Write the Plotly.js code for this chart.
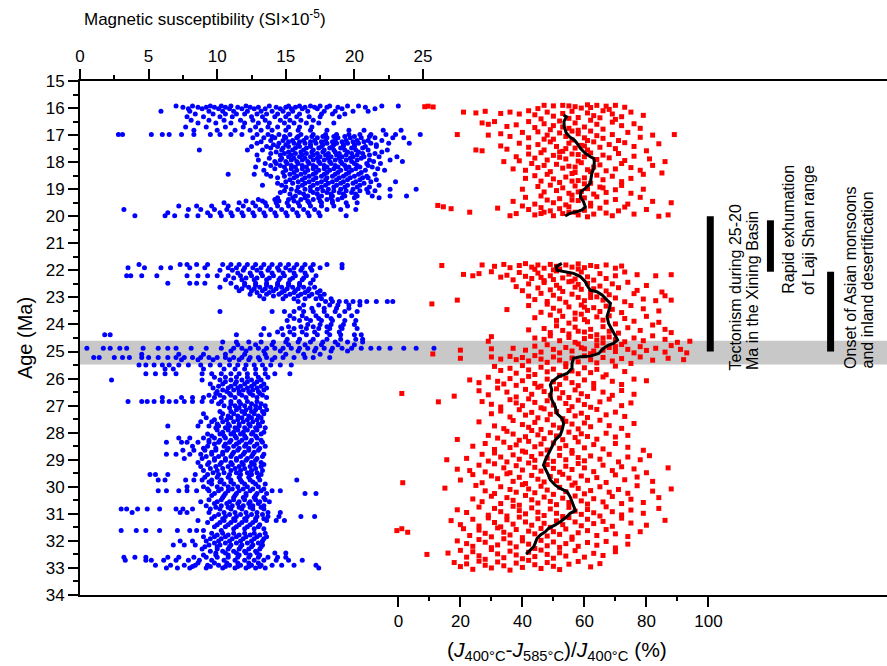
<!DOCTYPE html>
<html>
<head>
<meta charset="utf-8">
<script src="https://cdn.plot.ly/plotly-3.0.1.min.js"></script>
<style>html,body{margin:0;padding:0;background:#fff}#chart{width:887px;height:666px}</style>
</head>
<body>
<div id="chart"></div>
<script>
// ---------------- DATA ----------------
// Magnetic susceptibility (SI x 1e-5): row ages (Ma) and the values measured at each level
const magRowAge = [
 15.92,15.97,16.03,16.12,16.22,16.32,16.45,16.55,16.7,16.82,16.98,17.1,17.2,17.3,17.42,17.55,17.68,17.8,17.92,18.05,
 18.18,18.3,18.45,18.58,18.72,18.85,19.0,19.12,19.25,19.38,19.5,19.62,19.75,19.87,19.98,
 21.78,21.9,22.0,22.2,22.35,22.48,22.62,22.75,22.88,23.05,23.15,23.28,23.52,23.68,23.85,24.0,24.15,24.38,24.55,24.65,
 24.75,24.88,24.98,25.1,25.22,25.3,25.5,25.65,25.82,25.95,26.05,26.2,26.35,26.48,26.62,26.7,26.85,27.0,27.15,27.3,
 27.45,27.6,27.75,27.9,28.05,28.2,28.35,28.5,28.65,28.8,28.95,29.1,29.25,29.4,29.55,29.75,29.9,30.0,30.15,30.25,
 30.4,30.55,30.7,30.82,30.95,31.1,31.25,31.4,31.55,31.62,31.72,31.85,32.0,32.15,32.3,32.45,32.6,32.72,32.9,33.0,
 17.05,17.25,17.36,17.48,17.62,17.74,17.86,17.98,18.12,18.24,18.38,18.52,18.65,18.78,18.92,19.06,19.18,19.32,19.44,
 22.1,22.28,22.55,22.68,22.82,22.95,23.4,23.78,24.08,24.28,
 26.12,26.28,26.42,26.55,26.93,27.08,27.22,27.38,27.52,27.68,27.82,27.98,28.12,28.28,28.42,28.58,28.72,28.88,29.02,29.18,
 29.32,29.48,29.65,29.82,30.08,30.32,30.48,30.62,30.76,31.02,31.18,31.32,31.48,31.78,31.92,32.08,32.22,32.38,32.52,32.82,32.95
];
const magRowValues = [
 [7.0,8.2,9.5,10.3,11.0,12.1,13.8,15.2,16.0,16.8,17.5,18.2,19.5,20.3,22.0,23.2],
 [7.5,8.6,9.2,9.8,10.6,11.5,12.4,13.0,14.3,15.0,15.7,16.4,17.1,18.0,18.8,20.8],
 [7.9,8.9,10.1,10.9,11.8,12.7,13.5,14.6,15.4,16.2,17.3,19.1,21.5],
 [5.9,8.0,9.4,10.4,11.2,12.2,13.2,14.0,14.8,15.5,16.6,17.8,18.6,19.9,21.0],
 [8.4,9.7,10.6,11.4,12.0,12.9,13.6,14.4,15.2,16.0,17.6,18.4,19.3],
 [7.8,9.0,10.2,11.1,12.5,13.3,14.2,15.0,15.8,16.7,17.5,18.9],
 [8.1,9.4,10.5,11.7,12.6,13.5,14.6,15.3,16.1,17.0],
 [8.6,9.9,11.0,12.0,13.0,13.8,14.9,15.6,16.5,17.4,18.5],
 [7.7,9.2,10.6,11.9,12.8,13.7,14.4,15.2,16.0,16.9],
 [8.3,10.0,11.3,12.4,13.2,14.0,15.0,15.9,16.8,18.0,19.6,20.7,22.1,23.4],
 [2.8,3.1,5.2,6.0,6.5,7.4,8.3,9.5,10.2,11.0,11.8,12.9,13.7,14.5,15.3,16.1,17.0,17.9,18.7,19.6,20.4,21.2,22.3,23.0,24.8],
 [12.6,13.4,14.2,15.0,15.8,16.5,17.3,18.0,18.8,19.7,20.5,21.5,22.8,23.6],
 [13.9,14.8,15.5,16.3,17.1,17.9,18.6,19.4,20.2,21.0,22.0],
 [12.9,14.5,15.6,16.4,17.2,18.0,18.7,19.5,20.3,21.2,22.5,24.0],
 [12.5,13.6,14.4,15.2,16.0,16.8,17.6,18.4,19.2,20.0,20.8,21.6],
 [8.7,12.2,13.3,14.7,15.5,16.3,17.0,17.8,18.5,19.3,20.1,21.0,22.4],
 [13.9,14.9,15.7,16.5,17.3,18.1,18.9,19.8,20.6,21.5],
 [15.2,16.0,16.8,17.5,18.3,19.1,19.9,20.7,21.8,23.1],
 [13.0,14.6,15.4,16.2,17.0,17.8,18.6,19.4,20.2,21.1,22.6],
 [13.5,14.3,15.1,15.9,16.7,17.5,18.3,19.1,20.0,20.9,21.9],
 [12.8,14.9,15.7,16.5,17.2,18.0,18.8,19.6,20.4,21.3],
 [13.4,15.0,15.8,16.6,17.4,18.2,19.0,19.8,20.8,22.2],
 [10.8,12.7,13.6,15.3,16.1,17.0,17.8,18.6,19.4,20.3,21.5],
 [14.4,15.6,16.4,17.2,18.0,18.9,19.7,20.6,21.0],
 [15.0,15.9,16.7,17.6,18.4,19.2,20.1,21.2,23.0],
 [13.3,14.7,16.2,17.0,17.9,18.7,19.5,20.4,21.8],
 [15.4,16.4,17.3,18.1,19.0,19.9,20.9,22.6,24.5],
 [14.6,16.0,17.0,18.0,18.9,19.8,21.0],
 [15.7,16.6,17.6,18.4,19.3,20.2,21.3,22.6,23.8],
 [13.0,14.2,15.2,16.1,17.0,18.0,18.8],
 [10.5,11.6,12.6,13.5,14.3,15.1,15.9,16.7,17.6,18.4,19.4,20.2],
 [7.2,8.5,9.6,10.8,11.9,12.8,13.6,14.4,15.2,16.0,16.8,17.6,18.5,19.5],
 [3.2,7.9,8.8,9.8,10.7,11.5,12.3,13.1,13.9,14.7,15.5,16.3,17.1,18.0,19.0,20.1],
 [6.4,9.3,10.2,11.0,11.8,12.6,13.4,14.2,15.0,15.8,16.6,17.4],
 [4.0,6.2,6.9,7.8,8.6,9.5,10.3,11.1,11.9,12.7,13.5,14.3,15.1,15.9,16.7,17.5,19.4],
 [4.3,7.3,7.8,8.5,9.3,10.4,11.0,11.6,12.2,12.8,13.4,14.0,14.6,15.2,15.8,16.4,17.0,18.0,19.1],
 [3.5,4.7,5.9,6.6,8.0,9.1,10.8,11.4,12.0,12.6,13.2,13.8,14.4,15.0,15.6,16.2,16.8,17.5,19.1],
 [10.2,11.1,11.9,12.9,13.7,14.5,15.3,16.1,16.9],
 [3.4,3.7,4.5,5.6,7.8,8.6,9.3,10.0,10.8,11.7,12.5,13.3,14.1,14.9,15.7,16.5,17.2],
 [10.6,11.8,12.7,13.6,14.5,15.3,16.2,17.0],
 [6.4,8.0,8.5,9.1,11.0,12.0,12.8,13.6,14.4,15.2,16.0,16.8],
 [10.2,11.4,12.3,13.1,13.9,14.7,15.5,16.3,17.1],
 [11.6,12.5,13.3,14.1,14.9,15.7,16.6,17.5],
 [12.4,13.6,14.5,15.3,16.1,16.9,17.8],
 [13.4,14.8,15.6,16.4,17.2,17.6,18.3],
 [15.9,17.9,18.4,18.9,19.4,19.9,20.4,20.9,21.6,22.4,22.8],
 [16.3,17.4,18.2,18.8,19.6,20.4],
 [10.2,14.0,14.9,15.6,16.3,17.0,17.8,18.6,19.3,20.2],
 [15.3,16.2,17.2,18.0,18.9,19.8],
 [15.1,16.0,16.8,17.6,18.4,19.3,20.1],
 [16.6,17.5,18.3,19.2,20.0],
 [13.4,14.7,15.6,16.5,17.4,18.2,19.1,20.2],
 [1.8,2.2,11.4,13.2,13.8,14.8,15.6,16.5,17.3,18.2,19.0,20.0,20.5],
 [15.1,16.0,17.0,18.0,19.0,20.1,20.6],
 [10.4,11.4,12.3,13.2,14.1,15.0,15.9,16.8,17.7,18.6,19.5,20.6],
 [11.5,12.8,14.0,15.2,16.4,17.6,18.8,20.0],
 [0.5,1.7,2.2,2.9,3.4,4.6,5.7,6.4,7.0,8.1,9.2,10.3,11.2,11.8,12.4,13.0,13.6,14.2,14.8,15.4,16.0,16.6,17.2,17.8,18.4,19.1,19.8,20.5,21.2,21.8,22.6,23.6,24.5,25.8],
 [11.0,12.1,13.4,14.6,15.9,17.1,18.3,19.5],
 [4.5,7.2,9.0,10.6,12.0,13.5,15.0,16.3,17.5],
 [1.0,1.4,2.5,3.1,3.6,4.5,5.0,5.7,6.4,7.0,7.6,8.2,8.8,9.4,10.0,10.6,11.2,11.8,12.4,13.0,13.6,14.2,14.8,15.6,16.4,17.0,18.2],
 [7.4,8.6,9.7,10.9,11.6,12.3,13.1,14.0],
 [4.3,4.8,5.4,6.0,6.5,7.2,7.9,8.8,9.5,10.2,10.9,11.5,12.1,12.7,13.3,13.9,14.6,15.4],
 [6.2,6.8,9.0,10.5,11.3,12.0,12.8,13.5],
 [4.8,5.5,6.2,7.0,8.9,9.6,10.3,11.0,11.6,12.2,12.8,13.5,14.2,15.3],
 [9.8,10.6,11.4,12.2,13.0,13.7],
 [2.3,8.9,10.2,11.0,11.8,12.5,13.2],
 [9.5,10.4,11.3,12.0,12.7,13.4],
 [9.7,10.8,11.5,12.2,12.9,13.6],
 [10.0,10.7,11.6,12.3,13.0],
 [9.4,10.2,11.0,11.8,12.6,13.3],
 [6.0,7.4,8.2,9.0,9.8,10.5,11.3,12.1,12.9,13.6],
 [3.5,4.5,4.9,5.4,6.0,6.5,7.0,7.6,8.2,8.9,9.6,10.3,11.0,11.6,12.2,12.9],
 [10.5,11.3,12.0,12.8,13.5],
 [11.4,12.1,12.8,13.6],
 [9.0,10.4,11.2,12.0,12.7,13.4],
 [9.2,10.3,11.0,11.8,12.5,13.2],
 [8.8,9.6,10.4,11.2,11.9,12.6,13.3],
 [6.4,8.6,9.4,10.1,10.9,11.6,12.4,13.1],
 [10.0,10.8,11.5,12.2,12.9],
 [9.3,10.2,11.0,11.7,12.5,13.2],
 [7.2,8.0,9.0,9.8,10.6,11.4,12.1,12.9],
 [6.3,7.4,7.8,8.6,9.4,10.1,10.9,11.6,12.4,13.3],
 [8.2,9.3,10.5,11.2,12.0,12.7,13.5],
 [7.5,8.3,9.1,9.9,10.7,11.5,12.3,13.0],
 [6.3,7.0,8.0,8.8,9.6,10.4,11.1,11.9,12.6,13.4],
 [7.6,8.9,9.8,10.6,11.4,12.2,12.9],
 [8.6,9.4,10.3,11.0,11.8,12.5,13.2],
 [8.8,9.9,10.8,11.6,12.4,13.2],
 [9.0,10.0,11.0,11.7,12.5,13.3],
 [5.1,5.5,6.4,8.4,9.3,10.1,10.9,11.7,12.5,13.2],
 [5.7,6.2,7.7,8.3,8.9,9.6,10.3,11.0,11.7,12.4,13.1,15.8],
 [9.6,10.5,11.2,12.0,12.8,13.5],
 [7.8,9.0,10.0,10.8,11.5,12.2,13.0],
 [5.7,6.3,7.2,7.8,8.5,9.4,10.1,10.8,11.6,12.4,13.2,14.0,14.6],
 [9.8,10.6,11.4,12.1,12.9,13.6,16.4,17.2],
 [10.4,11.2,11.9,12.7,13.4],
 [8.8,10.0,10.9,11.6,12.4,13.1,13.8],
 [9.2,10.3,11.1,11.9,12.6,13.4],
 [3.0,3.4,4.2,4.9,5.8,7.0,7.5,8.2,9.5,10.2,11.0,11.8,12.6,13.4],
 [3.8,7.3,7.8,9.4,10.5,11.3,12.1,12.9,13.7,14.6],
 [9.8,10.6,11.4,12.2,12.9,13.7,14.5,16.1,17.1],
 [8.6,10.5,11.3,12.1,12.8,13.6,14.3,14.9],
 [10.0,10.8,11.6,12.4,13.1],
 [11.2,12.0,12.7,13.4],
 [3.0,4.1,4.8,5.8,7.1,8.0,8.5,9.0,10.3],
 [9.6,10.4,11.2,12.0,12.7,13.5],
 [9.0,9.8,10.6,11.4,12.1,12.9,13.6],
 [7.3,8.2,9.2,10.1,10.9,11.7,12.5,13.3],
 [6.8,7.6,8.4,9.4,10.2,11.0,11.8,12.6,13.3],
 [8.9,10.0,10.8,11.6,12.3,13.1],
 [9.9,10.6,11.4,12.1,12.9,14.2,15.0],
 [3.2,4.0,4.8,6.4,7.2,8.3,9.2,10.0,10.8,11.5,12.3,13.0,13.7,14.4,15.0],
 [3.3,4.8,5.2,6.1,7.0,7.9,8.7,9.6,10.5,11.3,12.0,12.7,13.4,14.3,15.2,16.2],
 [5.5,6.6,7.6,8.4,9.3,10.1,10.9,11.7,12.5,13.2,14.0,14.7,15.6,17.2],
 [6.3,7.1,8.0,9.2,10.4,11.3,12.1,12.8,13.5,17.4],
 [14.0,14.9,15.9,16.9,17.7,18.5,19.3,20.0,21.1],
 [13.2,15.2,16.0,16.8,17.6,18.4,19.1,19.9,20.7],
 [14.1,15.0,15.9,16.8,17.7,18.5,19.2,20.0,21.6],
 [13.9,14.8,15.7,16.5,17.4,18.2,19.0,19.8,20.6],
 [14.3,15.2,16.1,16.9,17.7,18.6,19.5,20.3,22.0],
 [12.9,14.6,15.4,16.2,17.0,17.9,18.7,19.4,20.2,21.1],
 [13.8,14.7,15.6,16.4,17.3,18.1,18.9,19.7,20.5],
 [14.2,15.0,15.8,16.6,17.4,18.2,19.0,19.8,21.4,23.5],
 [13.9,14.6,15.4,16.2,17.0,17.8,18.6,19.3,20.2,21.0],
 [14.2,15.4,16.2,17.0,17.8,18.5,19.4,20.1,21.7],
 [14.8,15.6,16.4,17.2,18.0,18.8,19.6,20.5],
 [13.9,14.9,15.8,16.7,17.6,18.4,19.2,20.0,20.9],
 [15.3,16.2,17.0,17.9,18.7,19.5,20.4,21.6],
 [14.4,15.5,16.4,17.3,18.1,19.0,19.9,20.7],
 [15.0,15.9,16.8,17.6,18.5,19.3,20.2,21.1],
 [14.9,15.8,16.8,17.7,18.5,19.4,20.4,21.5],
 [15.3,16.3,17.3,18.3,19.2,20.1],
 [14.4,15.5,16.4,17.4,18.3,19.1,20.0,21.8],
 [12.1,13.3,14.5,15.6,16.6,17.5,18.4],
 [11.5,12.4,13.2,14.0,14.8,15.6,16.4],
 [11.2,12.1,12.9,13.8,14.6,15.5,16.3],
 [12.0,12.8,13.6,14.4,15.2,16.0],
 [11.8,12.7,13.5,14.3,15.1,15.9,16.7],
 [12.9,13.8,14.7,15.6,16.4,17.3],
 [13.1,14.1,15.0,15.9,16.7,17.5],
 [16.0,16.9,17.8,18.7,19.6],
 [15.6,16.5,17.4,18.3],
 [15.2,16.1,17.0,18.0,19.0],
 [14.4,15.3,16.2,17.1,18.0,18.9],
 [10.6,11.4,12.2,12.9],
 [10.1,11.0,11.7,12.5,13.2],
 [10.4,11.2,11.9,12.6,13.4],
 [9.9,10.9,11.6,12.4,13.1],
 [10.1,11.0,11.7,12.5,13.2],
 [10.9,11.6,12.4,13.1],
 [10.2,11.0,11.8,12.5,13.3],
 [10.8,11.5,12.3,13.0],
 [9.8,10.7,11.5,12.2,12.9],
 [10.0,10.8,11.6,12.3,13.0],
 [9.9,10.6,11.3,12.0,12.8,13.5],
 [10.4,11.2,11.9,12.6,13.4],
 [9.6,10.5,11.3,12.0,12.8],
 [9.4,10.2,11.0,11.8,12.5,13.2],
 [9.8,10.6,11.4,12.1,12.9],
 [9.0,9.9,10.8,11.6,12.3,13.1],
 [9.6,10.4,11.2,12.0,12.7],
 [9.2,10.1,11.0,11.7,12.5,13.3],
 [9.8,10.6,11.4,12.1,12.8],
 [9.3,10.2,11.1,11.9,12.7,13.4],
 [9.5,10.4,11.3,12.0,12.8],
 [9.7,10.5,11.4,12.2,12.9],
 [9.1,10.0,10.8,11.6,12.3,13.0],
 [9.4,10.2,11.0,11.8,12.6],
 [9.3,10.3,11.1,11.9,12.6,13.4],
 [9.6,10.5,11.3,12.1,12.8],
 [9.4,10.3,11.2,12.0,12.8,13.5],
 [9.8,10.7,11.5,12.3,13.0],
 [9.9,10.8,11.6,12.4,13.2],
 [10.1,10.9,11.7,12.5,13.3],
 [9.6,10.4,11.2,12.0,12.8,13.4],
 [9.3,10.2,11.0,11.8,12.6],
 [9.8,10.6,11.4,12.2,13.0],
 [10.0,10.8,11.6,12.4,13.1],
 [9.5,10.3,11.1,11.9,12.7,13.4],
 [9.8,10.6,11.4,12.2,13.0],
 [9.1,10.0,10.9,11.7,12.5,13.2],
 [9.5,10.4,11.2,12.0,12.8],
 [9.0,9.9,10.8,11.6,12.4,13.1],
 [8.6,9.8,10.7,11.5,12.3,13.0],
 [8.2,9.5,10.6,11.5,12.3,13.1]
];

// (J400-J585)/J400 (%) : [age (Ma), percent]
const ratioPoints = [
 [15.95,8.5],[15.93,9.6],[15.96,11.2],
 [15.9,47],[15.92,50],[15.9,53],[15.95,57],[15.88,61],[15.9,64],[15.93,67],[15.9,70],[15.97,73],[15.92,55],[16.0,59],[16.02,45],[15.98,62],[16.05,68],
 [16.15,21],[16.18,25],[16.12,28],[16.2,33],[16.15,36],[16.22,39],[16.1,42],[16.25,44],[16.15,48],[16.3,50],[16.2,53],[16.12,56],[16.35,58],[16.18,61],[16.28,63],[16.1,66],[16.22,69],[16.32,72],[16.15,75],[16.27,79],[16.4,46],[16.38,55],[16.36,65],[16.42,70],
 [16.55,27],[16.6,29],[16.5,31],[16.68,35],[16.62,38],[16.5,42],[16.72,44],[16.58,47],[16.65,50],[16.48,52],[16.75,55],[16.55,57],[16.7,60],[16.45,62],[16.6,64],[16.78,66],[16.52,69],[16.65,72],[16.58,76],[16.75,78],[16.7,53],[16.8,49],[16.82,58],
 [16.98,19],[17.0,29],[16.95,33],[17.05,36],[16.9,40],[17.1,42],[16.88,45],[17.0,48],[17.15,50],[16.92,52],[17.05,54],[17.18,56],[16.95,58],[17.1,60],[16.85,62],[17.02,64],[17.12,66],[16.98,69],[17.2,71],[16.9,74],[17.08,78],[17.0,82],[16.98,89],[17.15,47],[17.2,61],[16.85,56],
 [17.55,25],[17.58,27],[17.4,33],[17.52,35],[17.3,39],[17.45,42],[17.35,45],[17.55,47],[17.25,49],[17.42,51],[17.6,53],[17.3,55],[17.48,57],[17.38,59],[17.55,61],[17.25,63],[17.45,65],[17.35,68],[17.5,70],[17.28,73],[17.42,76],[17.58,80],[17.32,84],[17.4,60],[17.5,54],
 [17.98,34],[17.8,38],[17.95,39],[17.7,42],[17.85,44],[17.65,46],[17.92,48],[17.75,50],[17.62,52],[17.88,54],[17.7,56],[17.96,58],[17.8,60],[17.66,62],[17.9,64],[17.74,66],[17.84,68],[17.68,71],[17.94,73],[17.78,76],[17.88,81],[17.98,86],[17.72,58],[17.82,52],
 [18.25,37],[18.3,41],[18.05,43],[18.2,45],[18.12,47],[18.35,49],[18.08,51],[18.22,53],[18.15,55],[18.38,57],[18.02,59],[18.28,61],[18.18,63],[18.1,65],[18.32,67],[18.25,70],[18.05,72],[18.2,75],[18.3,78],[18.12,82],[18.4,85],[18.18,57],[18.35,62],
 [18.6,41],[18.5,44],[18.7,46],[18.45,48],[18.62,50],[18.75,52],[18.55,54],[18.42,56],[18.68,58],[18.58,60],[18.78,62],[18.48,64],[18.65,66],[18.52,69],[18.72,72],[18.6,75],[18.45,79],[18.7,56],[18.8,60],
 [19.0,40],[18.9,45],[19.1,47],[18.85,49],[19.05,51],[18.95,53],[19.15,55],[18.88,57],[19.08,59],[18.98,61],[19.18,63],[18.92,65],[19.12,67],[19.02,70],[18.86,72],[19.15,75],[19.0,79],[19.1,58],[18.95,66],
 [19.45,37],[19.3,41],[19.55,44],[19.25,46],[19.4,48],[19.5,50],[19.35,52],[19.58,54],[19.22,56],[19.42,58],[19.32,60],[19.52,62],[19.28,64],[19.48,67],[19.38,70],[19.55,74],[19.3,78],[19.45,82],[19.5,88],[19.4,56],
 [19.6,12.7],[19.65,14.5],[19.72,17],[19.85,23],[19.7,32],[19.98,36],[19.9,38],[19.62,40],[19.75,42],[19.95,44],[19.68,46],[19.85,47],[19.8,49],[19.98,50],[19.72,52],[19.9,53],[19.65,55],[19.85,57],[19.95,58],[19.78,60],[19.62,62],[19.92,63],[19.7,65],[19.88,67],[19.98,69],[19.8,71],[19.66,73],[19.92,76],[19.75,80],[20.0,84],[19.95,87],[19.85,55],[20.02,61],[19.9,46],
 [21.82,14],[21.8,27],[21.85,31],[21.78,34],[21.9,36],[21.82,39],[21.75,41],[21.88,43],[21.8,45],[21.92,47],[21.78,49],[21.85,51],[21.95,52],[21.8,54],[21.88,56],[21.76,58],[21.9,60],[21.82,62],[21.86,64],[21.8,67],[21.92,70],[21.84,72],[21.96,44],[21.98,50],[21.95,58],
 [22.15,21],[22.2,24],[22.12,26],[22.05,30],[22.25,33],[22.18,35],[22.35,37],[22.08,39],[22.22,41],[22.3,43],[22.1,45],[22.38,47],[22.2,49],[22.02,51],[22.28,53],[22.14,55],[22.32,57],[22.06,59],[22.24,61],[22.36,63],[22.12,65],[22.3,67],[22.2,70],[22.06,73],[22.16,77],[22.2,83],[22.16,88],[22.34,50],[22.4,56],[22.26,46],
 [22.6,38],[22.75,40],[22.5,42],[22.65,45],[22.45,47],[22.72,49],[22.55,51],[22.78,53],[22.42,55],[22.62,57],[22.7,59],[22.48,61],[22.68,63],[22.58,65],[22.76,67],[22.5,69],[22.64,71],[22.44,74],[22.74,77],[22.56,80],[22.8,85],[22.66,52],[22.52,58],
 [23.1,19],[23.24,10.8],[22.95,42],[23.08,44],[22.85,46],[23.15,48],[22.92,50],[23.05,52],[23.18,54],[22.88,56],[23.0,58],[23.12,60],[22.82,62],[22.98,64],[23.1,66],[22.9,68],[23.02,70],[23.16,73],[22.86,76],[23.06,79],[23.12,83],[22.94,86],[23.1,88],[23.0,62],
 [23.45,35],[23.3,42],[23.55,46],[23.25,48],[23.4,50],[23.5,52],[23.35,55],[23.58,57],[23.28,59],[23.48,61],[23.38,63],[23.52,65],[23.32,67],[23.44,69],[23.56,72],[23.3,75],[23.42,79],[23.5,84],[23.36,60],
 [23.75,44],[23.65,49],[23.85,51],[23.7,53],[23.95,55],[23.8,57],[23.62,59],[23.9,61],[23.72,64],[23.84,66],[23.68,68],[23.98,70],[23.78,73],[23.88,76],[23.7,80],[23.92,84],[23.82,60],
 [24.2,42],[24.15,47],[24.3,49],[24.05,51],[24.22,53],[24.35,55],[24.1,57],[24.28,60],[24.18,62],[24.38,64],[24.08,66],[24.25,68],[24.32,71],[24.12,74],[24.22,78],[24.02,82],[24.18,86],[24.3,88],[24.25,58],
 [24.45,30],[24.62,29],[24.5,44],[24.55,47],[24.42,49],[24.6,52],[24.48,55],[24.66,57],[24.52,60],[24.44,62],[24.58,64],[24.68,66],[24.46,68],[24.56,70],[24.64,73],[24.5,76],[24.6,79],[24.42,82],[24.55,86],[24.66,90],[24.62,94],[24.5,66],
 [24.95,20],[24.9,30],[24.88,37],[24.95,41],[24.8,44],[25.02,46],[24.75,48],[24.92,50],[25.05,52],[24.85,54],[24.98,56],[24.72,58],[24.9,60],[25.08,62],[24.78,64],[24.95,66],[24.85,68],[25.0,70],[24.74,72],[24.92,74],[25.05,76],[24.82,78],[24.96,80],[24.88,83],[25.02,86],[24.78,88],[24.92,91],[25.05,93],[24.86,59],[24.98,63],[24.82,70],
 [25.09,11.1],[25.25,20],[25.2,30],[25.28,33],[25.18,36],[25.3,38],[25.22,40],[25.35,42],[25.15,44],[25.28,46],[25.4,48],[25.2,50],[25.32,52],[25.45,54],[25.24,56],[25.38,58],[25.16,60],[25.3,62],[25.42,64],[25.22,66],[25.35,69],[25.26,72],[25.44,75],[25.2,78],[25.32,82],[25.25,87],[25.3,92],
 [25.55,31],[25.7,33],[25.62,36],[25.8,38],[25.52,40],[25.68,42],[25.85,44],[25.58,46],[25.75,48],[25.65,50],[25.88,52],[25.56,54],[25.72,56],[25.82,58],[25.6,60],[25.78,62],[25.66,64],[25.86,67],[25.54,70],[25.74,73],
 [26.05,23],[26.15,26],[25.95,29],[26.1,32],[26.2,34],[26.0,36],[26.25,38],[26.08,40],[25.92,42],[26.18,44],[26.28,46],[26.02,48],[26.12,50],[26.22,52],[25.98,54],[26.15,56],[26.26,58],[26.05,60],[26.18,63],[25.94,66],[26.1,69],[26.22,72],[26.02,76],[26.08,80],
 [26.55,1.1],[26.86,12.9],[26.65,18],[26.45,26],[26.6,29],[26.35,32],[26.5,35],[26.68,38],[26.4,41],[26.58,43],[26.32,45],[26.48,47],[26.62,49],[26.38,51],[26.52,53],[26.7,55],[26.42,57],[26.56,59],[26.66,61],[26.36,63],[26.5,66],[26.62,69],[26.44,72],[26.58,76],
 [26.85,27],[26.95,30],[27.05,33],[26.78,36],[26.9,38],[27.0,40],[26.75,42],[26.88,44],[27.08,46],[26.82,48],[26.98,50],[26.72,52],[26.92,54],[27.04,56],[26.8,58],[26.96,60],[27.06,62],[26.86,65],[26.76,68],[27.0,72],[26.9,75],
 [27.3,30],[27.2,33],[27.42,36],[27.15,39],[27.35,41],[27.25,43],[27.45,45],[27.12,47],[27.32,49],[27.22,51],[27.48,53],[27.18,55],[27.38,57],[27.28,59],[27.44,61],[27.14,64],[27.34,67],[27.24,70],[27.4,73],
 [27.6,26],[27.75,31],[27.85,34],[27.55,37],[27.7,40],[27.8,42],[27.62,44],[27.88,46],[27.52,48],[27.72,50],[27.82,52],[27.58,54],[27.68,56],[27.86,58],[27.64,60],[27.78,62],[27.54,65],[27.74,68],[27.84,72],[27.66,76],
 [28.25,19],[28.1,29],[28.2,32],[27.95,35],[28.05,37],[28.28,39],[28.15,41],[27.92,43],[28.08,45],[28.22,47],[28.0,49],[28.12,51],[28.26,53],[27.98,55],[28.18,57],[28.04,59],[28.14,61],[28.24,64],[28.02,67],[28.16,70],[28.1,74],
 [28.5,24],[28.4,28],[28.62,31],[28.35,34],[28.55,36],[28.45,38],[28.68,40],[28.32,42],[28.52,44],[28.42,46],[28.64,48],[28.38,50],[28.58,52],[28.48,54],[28.66,56],[28.34,58],[28.56,60],[28.44,63],[28.6,66],[28.4,70],[28.54,74],[28.65,79],
 [29.0,15.6],[28.95,22],[28.8,27],[29.05,29],[28.75,31],[28.9,33],[29.08,35],[28.82,37],[28.98,39],[28.72,41],[28.88,43],[29.02,44],[28.78,46],[28.94,48],[29.06,50],[28.84,52],[29.0,54],[28.76,56],[28.92,58],[29.04,60],[28.86,62],[28.98,65],[28.8,68],[29.08,71],[28.9,74],[29.0,78],[28.85,81],
 [29.35,19],[29.4,23],[29.2,26],[29.45,28],[29.15,31],[29.3,34],[29.48,36],[29.22,38],[29.38,40],[29.12,42],[29.28,44],[29.42,46],[29.18,48],[29.32,50],[29.46,52],[29.24,54],[29.36,56],[29.14,58],[29.3,60],[29.44,63],[29.2,66],[29.4,69],[29.26,72],[29.34,76],[29.48,80],[29.3,87],
 [29.85,1.4],[29.75,20],[29.55,24],[29.85,27],[29.6,30],[29.7,32],[29.52,35],[29.8,37],[29.65,39],[29.88,41],[29.58,43],[29.72,45],[29.82,47],[29.62,49],[29.78,51],[29.54,53],[29.68,55],[29.86,57],[29.6,59],[29.76,61],[29.66,64],[29.84,67],[29.56,70],[29.74,73],[29.64,77],[29.8,82],
 [30.05,15],[29.95,25],[30.15,28],[30.25,31],[30.0,33],[30.1,36],[30.2,38],[29.92,40],[30.08,42],[30.22,44],[29.98,46],[30.12,48],[30.28,50],[30.02,52],[30.18,54],[29.94,56],[30.06,58],[30.26,60],[30.14,62],[30.0,65],[30.2,68],[30.1,71],[30.24,74],[29.96,77],[30.16,82],[30.08,88],
 [30.45,24],[30.55,27],[30.35,30],[30.62,33],[30.4,35],[30.5,37],[30.68,39],[30.32,41],[30.48,43],[30.6,45],[30.38,47],[30.54,49],[30.66,51],[30.42,53],[30.58,55],[30.34,57],[30.52,59],[30.64,61],[30.44,63],[30.56,66],[30.36,69],[30.62,72],[30.46,75],[30.58,79],[30.4,84],
 [30.85,19],[30.95,22],[30.75,26],[31.05,29],[30.8,31],[30.92,33],[31.08,35],[30.72,37],[30.88,39],[31.0,41],[30.78,43],[30.94,45],[31.06,47],[30.82,49],[30.98,51],[31.1,53],[30.76,55],[30.9,57],[31.02,59],[30.84,61],[30.96,63],[31.08,65],[30.74,67],[30.92,69],[31.04,72],[30.86,75],[30.98,79],[30.8,84],
 [31.25,17],[31.4,20],[31.2,24],[31.45,26],[31.15,29],[31.32,31],[31.48,33],[31.22,35],[31.38,37],[31.12,39],[31.3,41],[31.42,43],[31.18,45],[31.35,47],[31.5,49],[31.26,51],[31.4,53],[31.14,55],[31.3,57],[31.44,59],[31.2,61],[31.36,63],[31.28,66],[31.46,69],[31.16,72],[31.34,75],[31.42,80],[31.24,86],
 [31.62,-0.5],[31.55,1.1],[31.68,3.0],[31.55,21],[31.8,23],[31.6,26],[31.72,28],[31.85,30],[31.52,32],[31.68,34],[31.78,36],[31.58,38],[31.88,40],[31.64,42],[31.74,44],[31.54,46],[31.82,48],[31.66,50],[31.76,52],[31.56,54],[31.86,56],[31.7,58],[31.62,61],[31.8,64],[31.58,67],[31.74,70],[31.84,74],[31.66,78],
 [32.0,19],[32.1,22],[32.2,24],[31.95,26],[32.05,28],[32.25,30],[32.15,32],[31.92,34],[32.08,36],[32.22,38],[32.0,40],[32.12,42],[32.28,44],[31.98,46],[32.18,48],[32.04,50],[32.24,52],[32.1,54],[31.94,56],[32.2,58],[32.06,61],[32.16,64],[32.02,67],[32.26,70],[32.12,74],
 [32.5,9.2],[32.45,16],[32.35,20],[32.6,22],[32.4,24],[32.55,26],[32.68,28],[32.32,30],[32.48,32],[32.62,34],[32.38,36],[32.52,38],[32.66,40],[32.42,42],[32.58,44],[32.34,46],[32.5,48],[32.64,50],[32.44,52],[32.56,54],[32.36,57],[32.6,60],[32.46,63],[32.54,66],[32.4,70],
 [32.8,18],[32.95,20],[32.85,22],[33.05,24],[32.75,26],[32.9,28],[33.0,30],[32.78,32],[32.92,34],[33.08,36],[32.82,38],[32.98,40],[32.72,42],[32.88,44],[33.02,46],[32.8,48],[32.94,50],[33.06,52],[32.86,55],[32.76,58],[32.96,62],[32.84,65]
];

// Smoothed ratio curve (null = gap between sections)
const smoothAge = [16.26,16.32,16.5,16.69,16.91,17.06,17.18,17.3,17.49,17.67,17.8,17.86,17.98,18.23,18.41,18.6,18.78,18.97,19.09,19.28,19.46,19.65,19.77,19.83,19.89,19.99,null,
 21.74,21.86,21.99,22.05,22.11,22.23,22.42,22.54,22.73,22.79,22.91,23.1,23.22,23.4,23.71,23.96,24.2,24.45,24.57,24.7,24.76,24.88,25.07,25.17,25.19,25.25,25.44,25.62,25.81,25.93,26.12,26.24,26.42,26.61,26.79,27.04,27.29,27.47,27.66,27.9,28.09,28.27,28.52,28.76,29.01,29.2,29.38,29.57,29.75,29.94,30.06,30.18,30.37,30.55,30.74,30.88,30.98,31.1,31.29,31.41,31.54,31.66,31.78,31.91,32.09,32.22,32.34,32.49];
const smoothPct = [53.3,54.2,53.4,53.5,54.1,55.2,56.7,57.6,58.7,60.3,61.9,63.0,63.2,63.0,62.4,62.1,61.9,60.3,58.9,58.7,59.7,60.3,59.2,57.6,55.4,53.8,null,
 52.7,50.9,51.1,53.3,56.5,58.7,60.3,60.8,61.9,64.0,65.7,67.3,68.4,68.1,67.3,67.8,68.9,70.0,70.7,69.4,67.8,66.2,64.6,61.9,58.7,56.5,56.0,56.0,54.4,51.7,49.5,49.0,49.5,49.0,49.5,50.6,51.1,52.8,53.3,52.8,52.2,50.6,49.5,48.4,47.4,46.8,47.7,48.4,49.0,50.6,52.2,54.4,55.4,56.0,56.7,57.1,55.4,54.4,52.2,50.6,48.4,47.4,45.8,44.7,44.1,43.6,42.5,41.2];

// Event bars (ages in Ma) and their labels
const eventTop = [20.0, 20.15, 22.05];
const eventBottom = [25.0, 22.05, 25.0];
const eventPos = [100.6, 120.0, 139.4];     // position on the percent axis
const eventLines = [
  ["Tectonism during 25-20", "Ma in the Xining Basin"],
  ["Rapid exhumation", "of Laji Shan range"],
  ["Onset of Asian monsoons", "and inland desertification"]
];
const bandAge = [24.6, 25.48];

const ageTicks = [15,16,17,18,19,20,21,22,23,24,25,26,27,28,29,30,31,32,33,34];
const pctTicks = [0,20,40,60,80,100];
const pctMinor = [10,30,50,70,90];
const magTicks = [0,5,10,15,20,25];
const magMinor = [2.5,7.5,12.5,17.5,22.5];

// ---------------- BUILD ----------------
const magAge = [], magVal = [];
magRowAge.forEach((a, i) => magRowValues[i].forEach(v => { magAge.push(a); magVal.push(v); }));

const FONT = 'Liberation Sans, Arial, sans-serif';
const pctRange = [-102.7, 157.6];
const magRange = [0, 58.82];

const traces = [
  {type:'scatter', mode:'markers', x:magVal, y:magAge, xaxis:'x2', yaxis:'y',
   marker:{symbol:'circle', size:5, color:'#0000ff'}, hoverinfo:'skip'},
  {type:'scatter', mode:'markers', x:ratioPoints.map(p=>p[1]), y:ratioPoints.map(p=>p[0]), xaxis:'x', yaxis:'y',
   marker:{symbol:'square', size:5, color:'#ff0000'}, hoverinfo:'skip'},
  {type:'scatter', mode:'lines', x:smoothPct, y:smoothAge, xaxis:'x', yaxis:'y',
   line:{color:'#000', width:3}, connectgaps:false, hoverinfo:'skip'},
  {type:'scatter', mode:'markers', x:[], y:[], xaxis:'x3', yaxis:'y', hoverinfo:'skip'},
  {type:'scatter', mode:'markers', x:[], y:[], xaxis:'x4', yaxis:'y', hoverinfo:'skip'}
];

const shapes = [{type:'rect', xref:'paper', x0:0, x1:1, yref:'y', y0:bandAge[0], y1:bandAge[1],
  fillcolor:'#c8c8c8', line:{width:0}, layer:'below'}];
eventTop.forEach((t, i) => shapes.push({type:'line', xref:'x', yref:'y', x0:eventPos[i], x1:eventPos[i],
  y0:t, y1:eventBottom[i], line:{color:'#000', width:7}}));

const annotations = [
  {text:'Magnetic susceptibility (SI×10<sup>-5</sup>)', xref:'x2', x:9.1, yref:'paper', y:1.1226,
   xanchor:'center', yanchor:'middle', showarrow:false, font:{family:FONT, size:17, color:'#000'}},
  {text:'(<i>J</i><sub>400°C</sub>-<i>J</i><sub>585°C</sub>)/<i>J</i><sub>400°C</sub> (%)', xref:'x', x:51, yref:'paper', y:-0.108,
   xanchor:'center', yanchor:'middle', showarrow:false, font:{family:FONT, size:21, color:'#000'}},
  {text:'Age (Ma)', xref:'paper', x:-0.068, yref:'paper', y:0.5, textangle:-90,
   xanchor:'center', yanchor:'middle', showarrow:false, font:{family:FONT, size:20, color:'#000'}}
];
const labelX = [[108.7, 114.2], [126.0, 132.5], [145.8, 151.3]];
const labelY = [25.76, 20.5, 25.7];
const labelAnchor = ['bottom', 'middle', 'bottom'];
eventLines.forEach((lines, i) => lines.forEach((txt, j) => annotations.push({
  text:txt, xref:'x', x:labelX[i][j], yref:'y', y:labelY[i], textangle:-90,
  xanchor:'center', yanchor:labelAnchor[i], showarrow:false, font:{family:FONT, size:16, color:'#000'}
})));

const tickFont = {family:FONT, size:17, color:'#000'};
const layout = {
  width:887, height:666, margin:{l:80, r:0, t:81, b:71, pad:0},
  paper_bgcolor:'#fff', plot_bgcolor:'rgba(0,0,0,0)', showlegend:false,
  xaxis:{range:pctRange, tickmode:'array', tickvals:pctTicks, ticks:'outside', ticklen:10, tickwidth:2, tickcolor:'#000',
    showline:true, linewidth:2, linecolor:'#000', showgrid:false, zeroline:false, tickfont:tickFont, anchor:'y', side:'bottom'},
  xaxis3:{range:pctRange, overlaying:'x', anchor:'y', side:'bottom', tickmode:'array', tickvals:pctMinor,
    ticks:'outside', ticklen:5, tickwidth:2, tickcolor:'#000', showline:false, showgrid:false, zeroline:false, showticklabels:false},
  xaxis2:{range:magRange, overlaying:'x', anchor:'y', side:'top', tickmode:'array', tickvals:magTicks, ticks:'outside', ticklen:10,
    tickwidth:2, tickcolor:'#000', showline:true, linewidth:2, linecolor:'#000', showgrid:false, zeroline:false, tickfont:tickFont},
  xaxis4:{range:magRange, overlaying:'x', anchor:'y', side:'top', tickmode:'array', tickvals:magMinor,
    ticks:'outside', ticklen:5, tickwidth:2, tickcolor:'#000', showline:false, showgrid:false, zeroline:false, showticklabels:false},
  yaxis:{range:[34,15], tickmode:'array', tickvals:ageTicks, ticks:'outside', ticklen:10, tickwidth:2, tickcolor:'#000',
    minor:{dtick:0.5, tick0:15, ticks:'outside', ticklen:5, tickwidth:2, tickcolor:'#000', showgrid:false},
    showline:true, linewidth:2, linecolor:'#000', showgrid:false, zeroline:false, tickfont:tickFont},
  shapes:shapes, annotations:annotations
};

Plotly.newPlot('chart', traces, layout, {displayModeBar:false, staticPlot:true});
</script>
</body>
</html>
